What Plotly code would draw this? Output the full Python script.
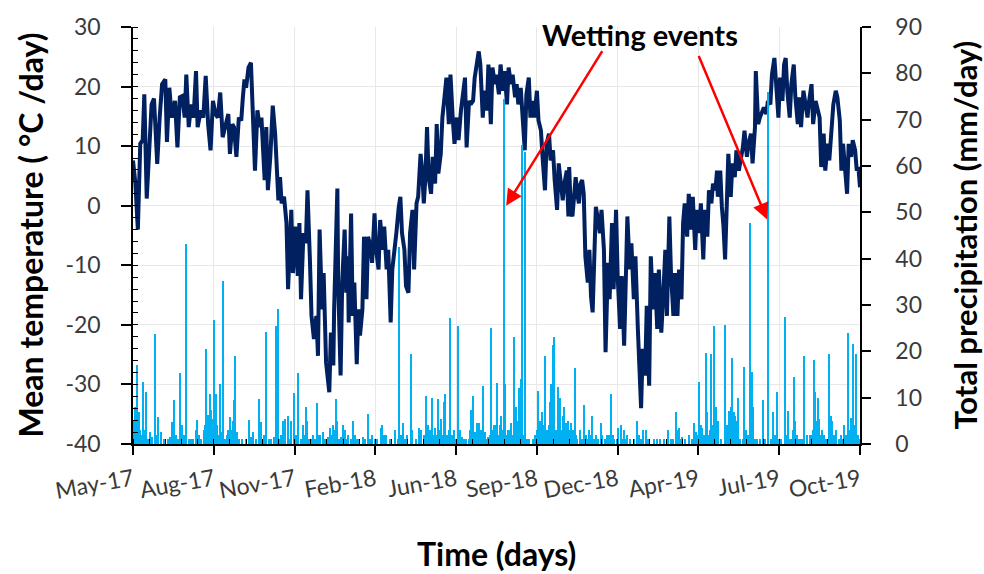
import pandas as pd
import plotly.graph_objects as go

# ---------------- data ----------------
start_date = "2017-05-01"

temp_days = [0, 3, 6, 9, 12, 14, 17, 20, 23, 26, 30, 33, 36, 40, 42, 45, 48, 52, 55, 58,
             61, 64, 66, 69, 72, 75, 78, 80, 84, 87, 90, 93, 96, 99, 102, 105, 108, 111, 114, 118,
             120, 123, 125, 128, 131, 134, 136, 138, 140, 143, 146, 149, 151, 154, 157, 159, 161, 163, 165, 167,
             170, 173, 176, 178, 180, 182, 184, 187, 190, 192, 196, 198, 201, 204, 206, 208, 211, 214, 216, 219,
             221, 224, 227, 229, 231, 234, 236, 239, 241, 243, 245, 248, 249, 251, 253, 254, 257, 259, 262, 264,
             266, 267, 270, 272, 274, 277, 279, 281, 284, 286, 289, 291, 294, 296, 299, 301, 304, 306, 309, 311,
             314, 316, 319, 321, 324, 326, 329, 331, 333, 336, 338, 341, 343, 346, 348, 351, 353, 356, 358, 360,
             362, 364, 366, 369, 371, 374, 376, 378, 381, 383, 386, 388, 391, 393, 396, 398, 401, 403, 406, 408,
             411, 413, 416, 418, 421, 423, 426, 428, 430, 433, 435, 438, 440, 443, 445, 448, 450, 453, 455, 458,
             460, 463, 465, 468, 470, 473, 475, 477, 480, 482, 485, 487, 490, 492, 495, 497, 500, 502, 505, 507,
             510, 512, 515, 517, 520, 522, 525, 527, 530, 532, 534, 537, 539, 540, 542, 544, 546, 548, 550, 552,
             554, 556, 558, 560, 563, 565, 567, 569, 571, 573, 575, 578, 580, 583, 585, 588, 590, 593, 595, 598,
             600, 603, 605, 608, 610, 612, 615, 617, 620, 622, 625, 627, 629, 631, 634, 636, 639, 641, 644, 646,
             649, 651, 654, 656, 659, 661, 664, 666, 669, 671, 674, 676, 679, 681, 683, 686, 688, 691, 693, 696,
             698, 701, 703, 706, 708, 711, 713, 716, 718, 721, 723, 724, 727, 729, 731, 733, 735, 737, 740, 742,
             745, 747, 750, 752, 755, 757, 760, 762, 765, 767, 770, 771, 774, 776, 779, 781, 784, 786, 789, 791,
             794, 796, 799, 801, 804, 806, 808, 810, 813, 815, 818, 820, 823, 825, 827, 830, 832, 835, 837, 840,
             842, 845, 847, 850, 852, 855, 857, 860, 862, 865, 867, 870, 872, 875, 877, 879, 882, 884, 886, 889,
             891, 894, 896, 898, 900]

temp_values = [7.6, 3.7, -4.0, 10.4, 11.0, 18.7, 1.2, 10.4, 17.0, 18.0, 7.0, 14.8, 20.4, 21.2, 10.7, 19.8, 14.8, 17.6, 9.8, 18.2,
               18.4, 14.8, 22.0, 13.2, 17.0, 14.8, 22.6, 13.2, 16.0, 14.8, 21.8, 13.7, 9.3, 17.6, 15.4, 14.8, 19.0, 11.5, 13.2, 15.4,
               8.7, 13.7, 13.2, 8.2, 14.8, 14.3, 18.2, 21.2, 19.8, 23.2, 24.0, 14.8, 5.9, 16.0, 13.2, 14.8, 9.3, 4.3, 13.2, 2.6,
               8.2, 16.8, 12.0, 5.4, 0.9, 4.8, 0.4, 1.5, -2.9, -14.0, -0.7, -11.3, -3.5, -11.8, -2.9, -15.7, -4.6, -6.3, 2.6, -9.0,
               -18.5, -22.4, -18.5, -25.2, -4.0, -17.4, -11.3, -26.3, -29.6, -31.3, -21.3, -26.8, -17.4, -7.4, 2.9, -12.9, -28.5, -12.9, -4.0, -14.6,
               -8.5, -19.6, -1.3, -18.5, -12.9, -26.6, -17.4, -21.8, -17.4, -5.2, -15.7, -5.2, -6.8, -9.6, -1.3, -7.4, -10.7, -2.4, -7.4, -3.5,
               -10.7, -7.4, -19.6, -10.7, -7.4, -4.6, -0.2, 1.5, -4.6, -7.4, -13.5, -14.6, -4.6, -0.7, -10.7, 0.4, 1.5, 8.7, 5.9, 0.4,
               4.8, 13.2, 4.8, 2.0, 8.2, 3.7, 13.7, 5.4, 8.7, 14.8, 18.7, 21.5, 13.7, 22.0, 14.3, 10.4, 14.8, 11.0, 16.0, 18.7,
               21.5, 9.8, 17.6, 17.0, 17.6, 21.5, 24.3, 25.9, 23.7, 14.8, 19.3, 16.0, 23.7, 13.7, 23.2, 20.4, 22.0, 18.7, 23.7, 19.3,
               22.6, 17.0, 23.2, 20.4, 22.0, 18.2, 20.4, 17.0, 19.8, 16.0, 9.3, 18.7, 21.5, 14.8, 17.6, 14.8, 19.3, 14.3, 12.6, 8.2,
               2.6, 10.4, 12.1, 7.6, 9.3, 4.3, -0.7, 7.1, 3.7, 0.9, 3.7, 5.9, -1.8, 6.5, -1.0, -1.8, 1.5, 4.8, 2.0, 0.4,
               3.7, 4.3, 2.0, -8.5, -12.9, -7.4, -15.2, -17.9, -9.0, -0.2, -1.8, -4.6, -0.7, -7.4, -24.6, -9.6, -15.7, -2.9, -14.0, -0.7,
               -11.8, -20.7, -11.8, -23.5, -12.9, -1.8, -10.7, -6.3, -15.7, -8.5, -20.7, -29.6, -34.0, -24.0, -28.5, -16.8, -30.2, -8.5, -17.4, -11.3,
               -20.7, -10.7, -21.3, -16.3, -7.4, -18.5, -1.8, -11.3, -18.5, -11.3, -18.5, -10.7, -15.7, -2.9, 0.4, -5.2, 2.0, -4.0, 1.5, -7.4,
               -0.7, -4.6, 0.4, -9.0, -0.7, -5.2, 2.6, 0.4, 3.7, 2.6, 5.9, 1.5, 5.9, -0.2, -3.5, -9.0, 2.6, 8.7, 1.5, 7.1,
               4.8, 9.3, 5.9, 7.6, 9.8, 12.6, 8.2, 10.4, 12.1, 7.1, 13.2, 22.6, 13.7, 14.8, 16.0, 16.5, 15.4, 17.6, 17.0, 22.0,
               24.8, 20.4, 14.8, 21.5, 17.6, 23.7, 24.8, 19.3, 14.8, 20.4, 23.7, 18.2, 13.7, 18.2, 13.2, 19.3, 17.0, 14.8, 17.6, 20.4,
               13.7, 17.6, 16.5, 14.8, 6.5, 12.1, 5.9, 10.4, 7.6, 14.8, 17.0, 19.3, 18.2, 14.3, 5.9, 10.4, 4.8, 2.0, 10.4, 8.2,
               11.0, 9.3, 5.9, 6.5, 3.1]

# larger daily rainfall events
precip_days = [1, 3, 5, 7, 9, 12, 16, 21, 27, 31, 35, 48, 51, 54, 59, 61, 66, 78, 80, 85,
               91, 93, 95, 97, 99, 101, 103, 108, 110, 112, 120, 122, 125, 127, 129, 144, 149, 156, 159, 165,
               175, 177, 180, 186, 189, 192, 196, 199, 205, 208, 211, 214, 216, 220, 223, 228, 232, 235, 242, 244,
               248, 251, 253, 258, 260, 263, 267, 270, 273, 277, 285, 291, 296, 300, 307, 309, 314, 318, 325, 330,
               334, 340, 344, 346, 354, 357, 360, 363, 366, 370, 374, 378, 382, 385, 387, 393, 397, 402, 405, 408,
               419, 421, 423, 426, 429, 431, 433, 436, 440, 444, 447, 448, 451, 454, 456, 459, 461, 466, 468, 472,
               474, 477, 478, 480, 482, 486, 491, 500, 502, 504, 507, 510, 513, 516, 518, 520, 522, 526, 529, 532,
               534, 536, 539, 541, 542, 545, 547, 550, 553, 558, 561, 565, 569, 573, 579, 581, 587, 592, 596, 601,
               604, 608, 612, 616, 624, 627, 631, 635, 645, 653, 662, 666, 672, 674, 676, 680, 688, 695, 697, 701,
               703, 705, 707, 709, 711, 714, 716, 719, 721, 722, 724, 725, 733, 738, 740, 742, 745, 747, 749, 752,
               757, 759, 764, 766, 768, 773, 780, 786, 793, 797, 800, 807, 811, 815, 818, 820, 827, 831, 834, 840,
               843, 845, 848, 850, 853, 856, 862, 864, 866, 870, 877, 881, 885, 889, 892, 895, 898]

precip_values = [5, 8, 17, 4, 3, 13.4, 11.2, 2.6, 23.7, 5.9, 2.6, 4.8, 9.4, 2, 15.4, 4, 43.1, 3, 5.1, 1,
                 20.5, 6.2, 10.9, 7.3, 5.5, 26.7, 10.9, 12.9, 2.6, 35.1, 5.9, 2.6, 9.4, 18.9, 2.6, 5.1, 2.6, 9.8, 4.8, 24.1,
                 1.5, 25.5, 29.2, 5, 5.5, 6, 5, 11, 15.4, 1, 4, 8, 5, 1, 2, 8.8, 2, 2.5, 1.5, 3.5,
                 4, 9.8, 5, 1.5, 4, 3, 2, 1, 5, 1, 1.5, 6.5, 2, 1, 3.5, 4, 2, 1, 3, 42.6,
                 4.5, 2, 19.4, 3, 3.5, 3, 2, 10.4, 4, 9.9, 3.5, 9.7, 5.5, 9.1, 10.9, 27.1, 3, 25.5, 3, 1.5,
                 7.3, 10.3, 2.5, 4.5, 4.5, 3, 12.5, 2.5, 1.5, 25.1, 4, 2, 13.2, 4, 6, 74.4, 13, 3, 4.5, 23.1,
                 8, 5, 12, 14, 64.5, 63, 1, 3, 11.4, 5, 7, 19, 3, 9, 13, 21.4, 23.1, 12.2, 10, 6,
                 8, 4.5, 5, 3, 4.5, 3, 16.4, 1, 3, 8.5, 2, 3, 6, 2, 4.6, 2, 2, 10.9, 1, 3.5,
                 4, 3, 2, 1, 5, 2, 3, 3, 1, 1, 3, 1, 6.9, 3, 3.5, 1.5, 2, 4.5, 2.5, 13.3,
                 4, 3.5, 2, 19.7, 7, 3, 19.4, 25.5, 7, 8, 5, 3, 25.6, 7.1, 8, 18.6, 6, 5, 10, 1,
                 16.6, 3, 47.6, 15.5, 8, 1, 9.5, 76, 7, 11.3, 1, 27.4, 7.2, 1, 14.4, 5, 1, 18.9, 2, 2,
                 18.1, 11.2, 10, 5.5, 3, 2, 19.4, 6, 5, 3, 2, 4, 24, 5.6, 21.6, 19.5, 2]

# light daily rainfall (small bars along the bottom)
light_days = [2, 4, 6, 8, 10, 14, 19, 24, 29, 38, 43, 46, 56, 63, 69, 72, 75, 82, 88, 89,
              92, 94, 96, 98, 100, 104, 106, 114, 116, 118, 123, 124, 126, 131, 135, 140, 146, 152, 162, 168,
              171, 182, 184, 194, 202, 212, 218, 226, 230, 238, 246, 250, 255, 262, 265, 275, 280, 288, 294, 302,
              311, 320, 328, 332, 337, 350, 364, 368, 372, 376, 380, 384, 389, 391, 395, 400, 410, 413, 416, 418,
              425, 428, 432, 438, 442, 446, 450, 453, 458, 463, 465, 470, 476, 479, 484, 488, 495, 498, 506, 509,
              512, 515, 519, 524, 527, 531, 538, 544, 549, 556, 563, 567, 571, 576, 584, 589, 594, 599, 606, 610,
              620, 629, 638, 649, 657, 669, 678, 684, 692, 699, 712, 718, 723, 728, 736, 739, 741, 743, 744, 746,
              748, 755, 761, 770, 776, 783, 790, 795, 803, 809, 813, 817, 822, 825, 829, 838, 842, 844, 846, 847,
              852, 858, 860, 863, 868, 874, 879, 883, 887, 891, 894, 897, 899]

light_values = [3, 6, 2, 7, 2, 3, 1, 1.5, 2, 1, 1, 1.5, 1, 2, 1, 1, 1, 2, 3, 4,
                3, 4, 3, 2, 3, 4, 2, 1, 2, 3, 3, 5, 3, 1, 1, 1, 1.5, 1, 2, 1,
                1, 1, 2, 1, 2, 2, 1, 1, 2, 1, 2, 3, 1, 2, 1, 2, 1, 1, 1, 1,
                2, 1, 1, 2, 1, 1, 2, 3, 2, 2, 3, 2, 2, 3, 2, 1, 1, 1, 1, 3,
                2, 3, 2, 1, 2, 3, 4, 2, 3, 2, 3, 2, 3, 4, 2, 1, 1, 2, 3, 4,
                2, 4, 5, 3, 4, 3, 2, 2, 2, 1, 1, 2, 1, 1, 1, 2, 2, 1, 1, 1,
                1, 1, 1, 1, 1, 1, 1, 1, 1, 2, 2, 4, 3, 1, 4, 5, 6, 4, 7, 3,
                2, 1, 2, 1, 1, 1, 1, 2, 1, 2, 1, 3, 2, 1, 1, 2, 3, 4, 5, 3,
                2, 1, 1, 3, 2, 1, 1, 2, 3, 2, 4, 2, 1]

tick_days = [0, 100, 200, 300, 400, 500, 600, 700, 800, 900]
tick_labels = ["May-17", "Aug-17", "Nov-17", "Feb-18", "Jun-18",
               "Sep-18", "Dec-18", "Apr-19", "Jul-19", "Oct-19"]
temp_ticks = [-40, -30, -20, -10, 0, 10, 20, 30]
temp_tick_labels = ["-40", "-30", "-20", "-10", "0", "10", "20", "30"]

# ---------------- build figure ----------------
t0 = pd.Timestamp(start_date)
temp_dates = t0 + pd.to_timedelta(temp_days, unit="D")
rain_days = list(precip_days) + list(light_days)
rain_values = list(precip_values) + list(light_values)
rain_dates = t0 + pd.to_timedelta(rain_days, unit="D")
tick_dates = t0 + pd.to_timedelta(tick_days, unit="D")
day_ms = 86400000

FONT = "Lato"
TICKC = "#3a3a3a"

fig = go.Figure()
fig.add_trace(go.Scatter(
    x=temp_dates, y=temp_values, mode="lines",
    line=dict(color="#002060", width=4), yaxis="y", showlegend=False))
fig.add_trace(go.Bar(
    x=rain_dates, y=rain_values, marker=dict(color="#00B0F0", line=dict(width=0)),
    width=1.7 * day_ms, yaxis="y2", showlegend=False))

fig.update_layout(
    width=984, height=574,
    margin=dict(l=133, r=124, t=24, b=130),
    paper_bgcolor="white", plot_bgcolor="white",
    font=dict(family=FONT, color="black"),
    bargap=0,
    xaxis=dict(
        type="date",
        range=[tick_dates[0], tick_dates[-1]],
        tickmode="array", tickvals=tick_dates, ticktext=tick_labels,
        tickangle=-10, tickfont=dict(family=FONT, size=23, color=TICKC),
        ticks="outside", ticklen=9, tickwidth=1.5, tickcolor="black",
        ticklabelstandoff=3,
        showline=True, linecolor="black", linewidth=1.5,
        showgrid=True, gridcolor="#E8E8E8", gridwidth=1,
        zeroline=False,
        minor=dict(ticks="inside", ticklen=5, tickwidth=1.2, tickcolor="black",
                   tick0=tick_dates[0], dtick=20 * day_ms, showgrid=False),
    ),
    yaxis=dict(
        range=[-40, 30],
        tickmode="array", tickvals=temp_ticks, ticktext=temp_tick_labels,
        tickfont=dict(family=FONT, size=23, color=TICKC),
        ticks="outside", ticklen=10, tickwidth=1.5, tickcolor="black",
        ticklabelstandoff=16,
        showline=True, linecolor="black", linewidth=1.5,
        showgrid=True, gridcolor="#E8E8E8", gridwidth=1,
        zeroline=False,
        minor=dict(ticks="inside", ticklen=5, tickwidth=1.2, tickcolor="black",
                   tickmode="linear", tick0=0, dtick=2, showgrid=False),
    ),
    yaxis2=dict(
        overlaying="y", side="right",
        range=[0, 90], dtick=10,
        tickfont=dict(family=FONT, size=23, color=TICKC),
        ticks="outside", ticklen=9, tickwidth=1.5, tickcolor="black",
        ticklabelstandoff=20,
        showline=True, linecolor="black", linewidth=1.5,
        showgrid=False, zeroline=False,
    ),
    annotations=[
        dict(text="<b>Mean temperature ( °C /day)</b>", xref="paper", yref="paper",
             x=0, y=0.5, xshift=-103, xanchor="center", yanchor="middle",
             textangle=-90, showarrow=False,
             font=dict(family=FONT, size=32, color="black")),
        dict(text="<b>Total precipitation (mm/day)</b>", xref="paper", yref="paper",
             x=1, y=0.5, xshift=104, xanchor="center", yanchor="middle",
             textangle=-90, showarrow=False,
             font=dict(family=FONT, size=31, color="black")),
        dict(text="<b>Time (days)</b>", xref="paper", yref="paper",
             x=0.5, y=0, yshift=-109, xanchor="center", yanchor="middle",
             showarrow=False,
             font=dict(family=FONT, size=32, color="black")),
        dict(text="<b>Wetting events</b>", xref="paper", yref="paper",
             x=0.697, y=0.983, xanchor="center", yanchor="middle",
             showarrow=False,
             font=dict(family=FONT, size=29, color="black")),
        dict(text="", x=t0 + pd.Timedelta(days=462), y=0, xref="x", yref="y",
             showarrow=True, arrowhead=2, arrowsize=1.3, arrowwidth=2.5,
             arrowcolor="#FF0000", ax=97, ay=-156, standoff=0),
        dict(text="", x=t0 + pd.Timedelta(days=785), y=-2.3, xref="x", yref="y",
             showarrow=True, arrowhead=2, arrowsize=1.3, arrowwidth=2.5,
             arrowcolor="#FF0000", ax=-69, ay=-165, standoff=0),
    ],
)

fig.write_html("out.html", config={"displayModeBar": False},
               post_script="document.body.style.margin='0';")
